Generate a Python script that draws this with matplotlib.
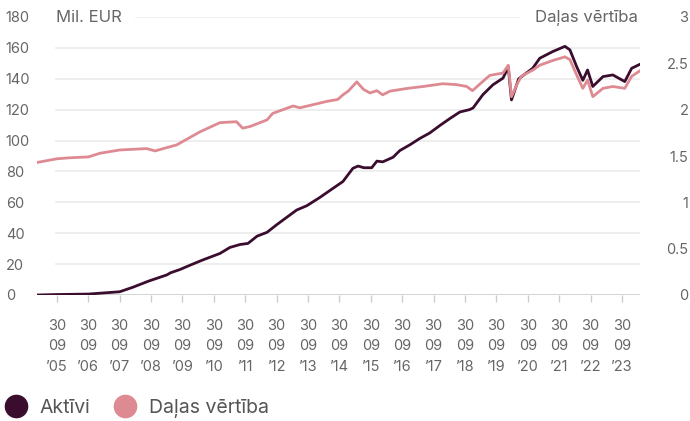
import matplotlib
matplotlib.use('Agg')
import matplotlib.pyplot as plt
from matplotlib.lines import Line2D
import pandas as pd

# Aktīvi, milj. EUR (kreisā ass)
aktivi_dates = ['2005-02-11', '2005-10-01', '2006-10-01', '2007-10-01', '2008-03-01', '2008-09-01',
                '2009-04-01', '2009-05-15', '2009-09-01', '2010-01-01', '2010-05-20', '2010-12-10',
                '2011-04-05', '2011-08-01', '2011-11-01', '2012-02-15', '2012-06-10', '2012-10-05',
                '2013-01-25', '2013-05-20', '2013-09-15', '2014-02-15', '2014-07-05', '2014-11-10',
                '2015-03-05', '2015-05-05', '2015-07-10', '2015-10-10', '2015-12-10', '2016-02-15',
                '2016-06-15', '2016-09-01', '2017-01-01', '2017-04-20', '2017-08-15', '2017-12-15',
                '2018-04-05', '2018-08-01', '2018-11-20', '2019-01-01', '2019-04-25', '2019-08-20',
                '2019-12-15', '2020-02-15', '2020-03-23', '2020-06-15', '2020-11-25', '2021-02-15',
                '2021-07-15', '2021-12-05', '2022-02-01', '2022-04-20', '2022-07-01', '2022-08-25',
                '2022-10-25', '2023-02-20', '2023-06-15', '2023-11-01', '2024-01-20', '2024-04-26']
aktivi = [0.0, 0.3, 0.6, 2.1, 5.0, 9.0,
          13.0, 14.4, 16.5, 19.4, 22.6, 26.9,
          30.8, 32.7, 33.4, 38.1, 40.6, 45.7,
          50.3, 55.0, 57.8, 63.2, 68.6, 73.5,
          82.0, 83.5, 82.4, 82.4, 86.7, 86.2,
          89.2, 93.5, 97.4, 101.3, 104.9, 109.9,
          114.2, 118.5, 120.0, 121.1, 129.7, 136.1,
          140.4, 147.5, 126.3, 140.0, 146.8, 153.3,
          157.6, 161.0, 158.7, 147.9, 139.0, 145.7,
          135.0, 141.4, 142.5, 138.2, 146.8, 149.4]

# Daļas vērtība (labā ass)
dala_dates = ['2005-02-11', '2005-10-01', '2006-02-15', '2006-10-01', '2007-02-15', '2007-10-01',
              '2008-08-10', '2008-11-15', '2009-07-25', '2010-04-20', '2010-12-10', '2011-06-20',
              '2011-09-01', '2011-12-01', '2012-06-10', '2012-08-15', '2013-04-10', '2013-06-25',
              '2014-05-10', '2014-09-10', '2014-11-10', '2015-01-10', '2015-04-20', '2015-07-05',
              '2015-09-20', '2015-12-10', '2016-02-15', '2016-05-10', '2016-12-01', '2017-05-30',
              '2018-01-15', '2018-06-25', '2018-10-20', '2018-12-25', '2019-04-25', '2019-07-15',
              '2019-12-15', '2020-02-15', '2020-03-23', '2020-05-25', '2020-07-15', '2020-12-01',
              '2021-02-15', '2021-07-15', '2021-12-05', '2022-02-01', '2022-04-20', '2022-07-01',
              '2022-08-25', '2022-10-25', '2023-02-20', '2023-06-15', '2023-11-01', '2024-01-20',
              '2024-04-26']
dala = [1.43, 1.47, 1.48, 1.49, 1.53, 1.565,
        1.58, 1.555, 1.62, 1.76, 1.86, 1.87,
        1.80, 1.82, 1.89, 1.96, 2.04, 2.02,
        2.09, 2.11, 2.16, 2.20, 2.30, 2.22,
        2.18, 2.205, 2.16, 2.20, 2.23, 2.25,
        2.28, 2.27, 2.25, 2.205, 2.305, 2.37,
        2.395, 2.48, 2.14, 2.27, 2.36, 2.43,
        2.48, 2.53, 2.57, 2.54, 2.375, 2.23,
        2.32, 2.14, 2.23, 2.25, 2.23, 2.36,
        2.42]

left_ticks = [0, 20, 40, 60, 80, 100, 120, 140, 160, 180]
right_ticks = [0, 0.5, 1, 1.5, 2, 2.5, 3]
right_labels = ['0', '0.5', '1', '1.5', '2', '2.5', '3']
tick_years = list(range(2005, 2024))

c_akt = '#3a0d2e'
c_dala = '#de8a92'
c_txt = '#666666'

plt.rcParams['font.family'] = ['Inter', 'DejaVu Sans']
plt.rcParams['font.size'] = 10.5

fig = plt.figure(figsize=(6.9, 4.21), dpi=100)
ax = fig.add_axes([37/690, 1 - 295/421, 603/690, 278/421])
ax2 = ax.twinx()

x_a = pd.to_datetime(aktivi_dates)
x_d = pd.to_datetime(dala_dates)

ax.plot(x_a, aktivi, color=c_akt, lw=2.0, solid_joinstyle='round', zorder=3)
ax2.plot(x_d, dala, color=c_dala, lw=2.0, solid_joinstyle='round', zorder=3)

ax.set_xlim(x_a[0], x_a[-1])
ax.set_ylim(0, 180)
ax2.set_ylim(0, 3)

# režģis
for v in left_ticks[1:-1]:
    ax.axhline(v, xmin=19/603, xmax=1, color='#ebebeb', lw=1.2, zorder=1)
ax.axhline(180, xmin=99/603, xmax=483/603, color='#ebebeb', lw=1.2, zorder=1)
ax.axhline(0, color='#cccccc', lw=1.2, zorder=2)

for a in (ax, ax2):
    for s in a.spines.values():
        s.set_visible(False)

ax.set_yticks(left_ticks)
ax.tick_params(axis='y', length=0, pad=22.5, labelcolor=c_txt)
for lbl in ax.get_yticklabels():
    lbl.set_horizontalalignment('left')

ax2.set_yticks(right_ticks)
ax2.set_yticklabels(right_labels)
ax2.tick_params(axis='y', length=0, pad=35, labelcolor=c_txt)
for lbl in ax2.get_yticklabels():
    lbl.set_horizontalalignment('right')

xt = [pd.Timestamp(f'{y}-09-30') for y in tick_years]
ax.set_xticks(xt)
ax.set_xticklabels([f'30\n09\n\u2019{str(y)[2:]}' for y in tick_years], linespacing=1.6)
ax.tick_params(axis='x', length=5, width=1, color='#cccccc', pad=12, labelcolor=c_txt)

ax.text(19/603, 180, 'Mil. EUR', transform=ax.get_yaxis_transform(), ha='left', va='center',
        color=c_txt, fontsize=12)
ax.text(1 - 2/603, 180, 'Daļas vērtība', transform=ax.get_yaxis_transform(), ha='right', va='center',
        color=c_txt, fontsize=12)

handles = [Line2D([], [], marker='o', ls='', ms=16, color=c_akt),
           Line2D([], [], marker='o', ls='', ms=16, color=c_dala)]
fig.legend(handles, ['Aktīvi', 'Daļas vērtība'], loc='lower left', bbox_to_anchor=(-0.02, -0.035),
           ncol=2, frameon=False, fontsize=14, handletextpad=0.55, columnspacing=1.15,
           handlelength=1.3, labelcolor='#555555')

fig.savefig('out.png', dpi=100)
